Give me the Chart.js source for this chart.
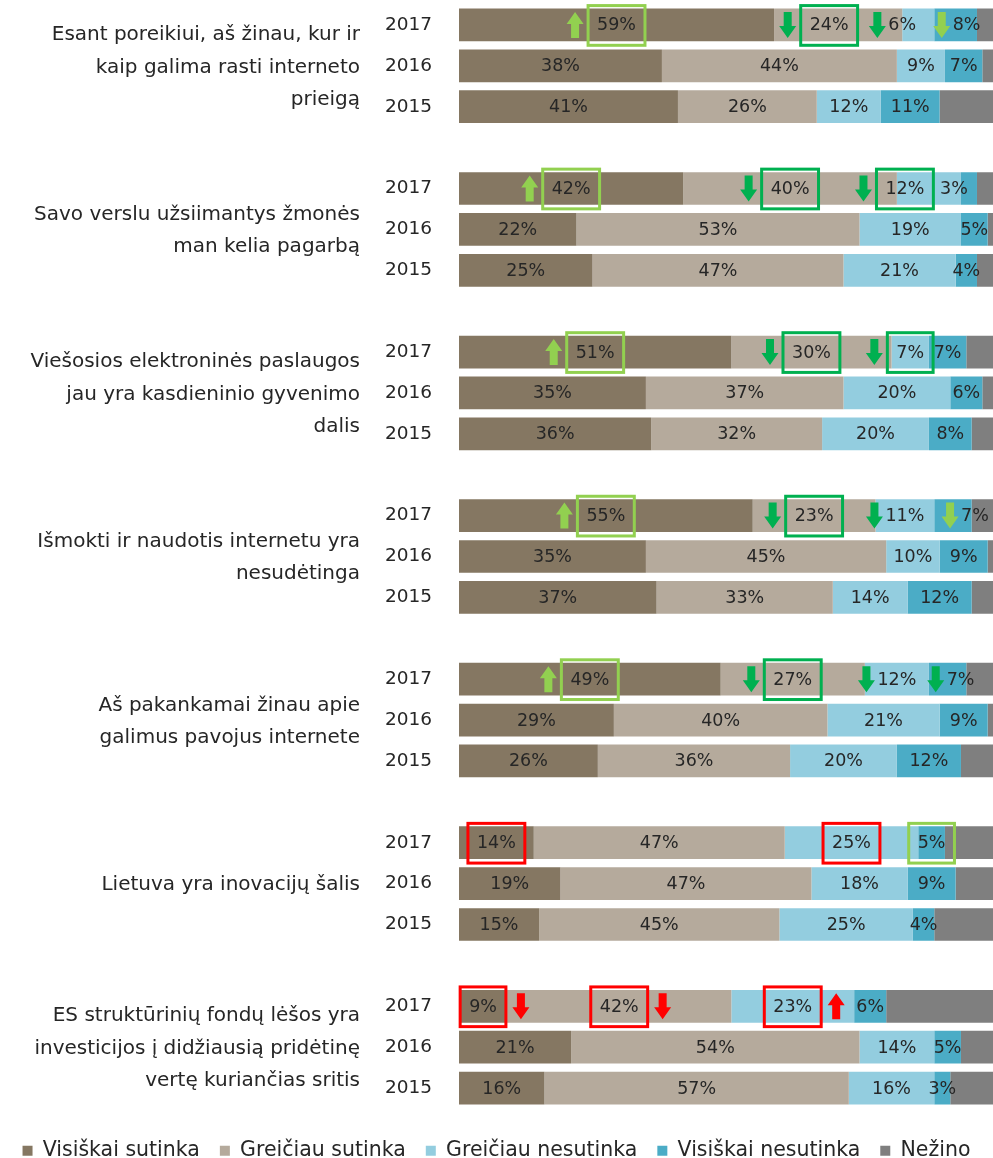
<!DOCTYPE html>
<html><head><meta charset="utf-8">
<script src="https://cdn.jsdelivr.net/npm/chart.js@4.4.0/dist/chart.umd.min.js"></script>
<style>html,body{margin:0;padding:0;background:#fff}#wrap{width:993px;height:1158px;position:relative}</style>
</head><body><div id="wrap"><canvas id="c"></canvas></div>
<script>
const groupLabels = [
  ['Esant poreikiui, aš žinau, kur ir', 'kaip galima rasti interneto', 'prieigą'],
  ['Savo verslu užsiimantys žmonės', 'man kelia pagarbą'],
  ['Viešosios elektroninės paslaugos', 'jau yra kasdieninio gyvenimo', 'dalis'],
  ['Išmokti ir naudotis internetu yra', 'nesudėtinga'],
  ['Aš pakankamai žinau apie', 'galimus pavojus internete'],
  ['Lietuva yra inovacijų šalis'],
  ['ES struktūrinių fondų lėšos yra', 'investicijos į didžiausią pridėtinę', 'vertę kuriančias sritis']
];
const years = ['2017', '2016', '2015'];
const seriesNames = ['Visiškai sutinka', 'Greičiau sutinka', 'Greičiau nesutinka', 'Visiškai nesutinka', 'Nežino'];
// values per group: 2017, 2016, 2015
const visiskaiSutinka   = [59,38,41, 42,22,25, 51,35,36, 55,35,37, 49,29,26, 14,19,15,  9,21,16];
const greiciauSutinka   = [24,44,26, 40,53,47, 30,37,32, 23,45,33, 27,40,36, 47,47,45, 42,54,57];
const greiciauNesutinka = [ 6, 9,12, 12,19,21,  7,20,20, 11,10,14, 12,21,20, 25,18,25, 23,14,16];
const visiskaiNesutinka = [ 8, 7,11,  3, 5, 4,  7, 6, 8,  7, 9,12,  7, 9,12,  5, 9, 4,  6, 5, 3];
const nezino            = [ 3, 2,10,  3, 1, 3,  5, 2, 4,  4, 1, 4,  5, 1, 6,  9, 7,11, 20, 6, 8];
const colors = ['#857762', '#b5aa9c', '#93cddf', '#4bacc6', '#7f7f7f'];

// change markers on 2017 rows: [group, series, boxColor, arrow, arrowColor, arrowSide]
const LG = '#92d050', G = '#00b050', R = '#ff0000';
const marks = [
  [0,0,LG,'up',LG,'left'], [0,1,G,'down',G,'left'], [0,2,null,'down',G,'left'], [0,3,null,'down',LG,'left'],
  [1,0,LG,'up',LG,'left'], [1,1,G,'down',G,'left'], [1,2,G,'down',G,'left'],
  [2,0,LG,'up',LG,'left'], [2,1,G,'down',G,'left'], [2,2,G,'down',G,'left'],
  [3,0,LG,'up',LG,'left'], [3,1,G,'down',G,'left'], [3,2,null,'down',G,'left'], [3,3,null,'down',LG,'left'],
  [4,0,LG,'up',LG,'left'], [4,1,G,'down',G,'left'], [4,2,null,'down',G,'left'], [4,3,null,'down',G,'left'],
  [5,0,R,null,null,null], [5,2,R,null,null,null], [5,3,LG,null,null,null],
  [6,0,R,'down',R,'right'], [6,1,R,'down',R,'right'], [6,2,R,'up',R,'right']
];
// manual label nudges on crowded 2017 rows (group_series -> px)
const labelNudge = { '0_1': -9, '0_2': -16, '0_3': 11, '1_2': -24, '1_3': -15, '3_3': 22, '4_3': 13 };

const FONT = '"DejaVu Sans", sans-serif';
const rowLabels = [];
const rowIndex = [];
groupLabels.forEach((g, gi) => {
  years.forEach((y) => { rowIndex.push(rowLabels.length); rowLabels.push(y); });
  if (gi < groupLabels.length - 1) rowLabels.push('');
});
function expand(arr) {
  const out = rowLabels.map(() => null);
  arr.forEach((v, i) => { out[rowIndex[i]] = v; });
  return out;
}
const allSeries = [visiskaiSutinka, greiciauSutinka, greiciauNesutinka, visiskaiNesutinka, nezino];

function drawArrow(ctx, cx, cy, dir, color) {
  const w = 17, h = 26, hh = 12, sw = 8;
  const top = cy - h / 2, bot = cy + h / 2;
  ctx.save();
  ctx.fillStyle = color;
  ctx.beginPath();
  if (dir === 'up') {
    ctx.moveTo(cx, top);
    ctx.lineTo(cx + w / 2, top + hh);
    ctx.lineTo(cx + sw / 2, top + hh);
    ctx.lineTo(cx + sw / 2, bot);
    ctx.lineTo(cx - sw / 2, bot);
    ctx.lineTo(cx - sw / 2, top + hh);
    ctx.lineTo(cx - w / 2, top + hh);
  } else {
    ctx.moveTo(cx, bot);
    ctx.lineTo(cx + w / 2, bot - hh);
    ctx.lineTo(cx + sw / 2, bot - hh);
    ctx.lineTo(cx + sw / 2, top);
    ctx.lineTo(cx - sw / 2, top);
    ctx.lineTo(cx - sw / 2, bot - hh);
    ctx.lineTo(cx - w / 2, bot - hh);
  }
  ctx.closePath();
  ctx.fill();
  ctx.restore();
}

const overlay = {
  id: 'overlay',
  afterDatasetsDraw(chart) {
    const ctx = chart.ctx;
    ctx.save();
    ctx.font = '17.5px ' + FONT;
    ctx.textAlign = 'center';
    ctx.textBaseline = 'middle';
    const markMap = {};
    marks.forEach(m => { markMap[m[0] + '_' + m[1]] = m; });
    for (let s = 0; s < 4; s++) {
      const meta = chart.getDatasetMeta(s);
      allSeries[s].forEach((v, i) => {
        const el = meta.data[rowIndex[i]];
        if (!el || v == null) return;
        const g = Math.floor(i / 3), yr = i % 3;
        const key = g + '_' + s;
        let cx = (el.x + el.base) / 2;
        if (yr === 0 && labelNudge[key]) cx += labelNudge[key];
        const cy = el.y;
        const txt = v + '%';
        ctx.fillStyle = '#262626';
        ctx.fillText(txt, cx, cy + 1);
        if (yr !== 0) return;
        const m = markMap[key];
        if (!m) return;
        const tw = ctx.measureText(txt).width;
        let left = cx - tw / 2 + 1, right = cx + tw / 2 - 1;
        if (m[2]) {
          const bl = cx - tw / 2 - 9, br = cx + tw / 2 + 9;
          const bh = el.height + 7;
          ctx.save();
          ctx.strokeStyle = m[2];
          ctx.lineWidth = 3;
          ctx.strokeRect(bl, cy - bh / 2 + 0.5, br - bl, bh);
          ctx.restore();
          left = bl - 1; right = br + 1;
        }
        if (m[3]) {
          const ax = m[5] === 'left' ? left - 12 : right + 14;
          drawArrow(ctx, ax, cy, m[3], m[4]);
        }
      });
    }
    // group labels
    ctx.font = '20px ' + FONT;
    ctx.fillStyle = '#262626';
    ctx.textAlign = 'right';
    const m0 = chart.getDatasetMeta(0);
    groupLabels.forEach((lines, gi) => {
      const el = m0.data[rowIndex[gi * 3 + 1]];
      const lh = 32.5;
      const start = el.y + 1.5 - (lines.length - 1) * lh / 2;
      lines.forEach((t, li) => ctx.fillText(t, 360, start + li * lh));
    });
    ctx.restore();
  }
};

new Chart(document.getElementById('c'), {
  type: 'bar',
  data: {
    labels: rowLabels,
    datasets: allSeries.map((arr, k) => ({
      label: seriesNames[k],
      data: expand(arr),
      backgroundColor: colors[k],
      borderWidth: 0,
      categoryPercentage: 1,
      barPercentage: 0.8
    }))
  },
  options: {
    indexAxis: 'y',
    responsive: true,
    maintainAspectRatio: false,
    animation: false,
    layout: { padding: { top: 4.5, bottom: -13, left: 0, right: 0 } },
    scales: {
      x: {
        stacked: true, min: 0, max: 100, display: true,
        grid: { display: false }, border: { display: false }, ticks: { display: false },
        afterFit(scale) { scale.height = 12; scale.paddingLeft = 0; scale.paddingRight = 0; }
      },
      y: {
        stacked: true,
        grid: { display: false, drawTicks: false },
        border: { display: false },
        ticks: { color: '#262626', font: { family: FONT, size: 18.5 }, padding: 27, autoSkip: false },
        afterFit(scale) { scale.width = 459; scale.paddingTop = 0; scale.paddingBottom = 0; }
      }
    },
    plugins: {
      legend: {
        position: 'bottom',
        labels: {
          color: '#262626',
          font: { family: FONT, size: 20.5 },
          boxWidth: 10, boxHeight: 10, padding: 20
        }
      },
      tooltip: { enabled: false }
    }
  },
  plugins: [overlay]
});
</script></body></html>
